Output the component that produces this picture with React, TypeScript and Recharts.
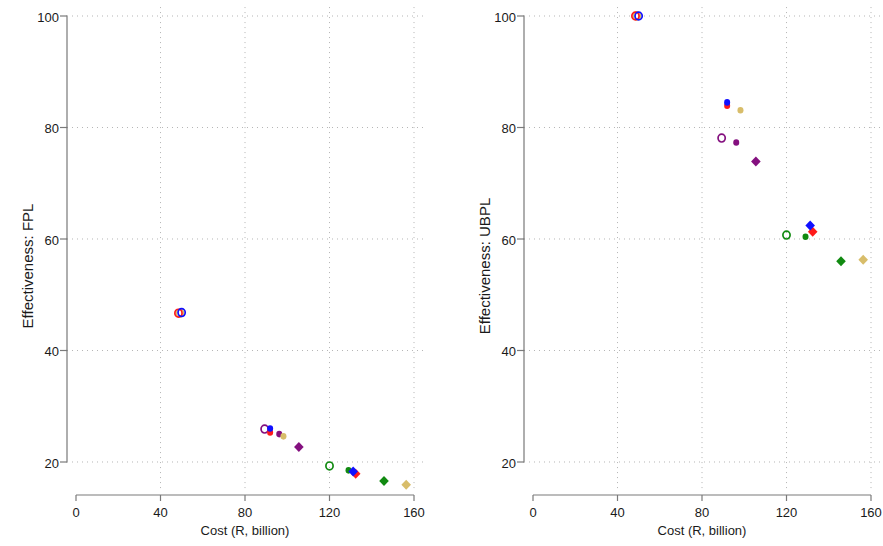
import React from 'react';
import { ScatterChart, Scatter, XAxis, YAxis, ReferenceLine } from 'recharts';

const costTicks = [0, 40, 80, 120, 160];
const effTicks = [20, 40, 60, 80, 100];

// marker kind of the 1st, 2nd and 3rd point in every group
const kinds = ['hollow', 'dot', 'diamond'];

const redCost = [48.5, 91.9, 132.4];
const blueCost = [50.0, 91.9, 131.2];
const sandCost = [49.2, 98.2, 156.3];
const purpleCost = [89.3, 96.2, 105.5];
const greenCost = [120.0, 129.0, 145.8];

const redFPL = [46.7, 25.3, 17.9];
const blueFPL = [46.8, 26.0, 18.3];
const sandFPL = [46.7, 24.6, 15.9];
const purpleFPL = [25.9, 25.0, 22.7];
const greenFPL = [19.3, 18.5, 16.6];

const redUBPL = [100, 83.9, 61.3];
const blueUBPL = [100, 84.5, 62.4];
const sandUBPL = [100, 83.1, 56.3];
const purpleUBPL = [78.1, 77.3, 73.9];
const greenUBPL = [60.7, 60.4, 56.0];

const COLORS = {
  red: '#ff1a1a',
  blue: '#1010ff',
  sand: '#d8bd6a',
  purple: '#84107f',
  green: '#118a11',
};

const AXIS = '#7a7a7a';
const GRID = '#b4b4b4';
const TEXT = '#1a1a1a';
const FONT = '"Liberation Sans", Arial, sans-serif';

const Y_MIN = 14.08;
const Y_MAX = 100;
const TOP = 16;
const PLOT_H = 479;

const build = (costs: number[], effs: number[]) =>
  costs.map((c, i) => ({ cost: c, eff: effs[i], kind: kinds[i] }));

const fplGroups = [
  { color: COLORS.green, data: build(greenCost, greenFPL) },
  { color: COLORS.purple, data: build(purpleCost, purpleFPL) },
  { color: COLORS.sand, data: build(sandCost, sandFPL) },
  { color: COLORS.red, data: build(redCost, redFPL) },
  { color: COLORS.blue, data: build(blueCost, blueFPL) },
];

const ubplGroups = [
  { color: COLORS.green, data: build(greenCost, greenUBPL) },
  { color: COLORS.purple, data: build(purpleCost, purpleUBPL) },
  { color: COLORS.sand, data: build(sandCost, sandUBPL) },
  { color: COLORS.red, data: build(redCost, redUBPL) },
  { color: COLORS.blue, data: build(blueCost, blueUBPL) },
];

function makeMarker(color: string) {
  return (props: any) => {
    const { cx, cy, payload } = props;
    if (cx == null || cy == null) return <g />;
    if (payload.kind === 'hollow') {
      return <ellipse cx={cx} cy={cy} rx={3.6} ry={3.9} fill="none" stroke={color} strokeWidth={1.7} />;
    }
    if (payload.kind === 'dot') {
      return <ellipse cx={cx} cy={cy} rx={3} ry={3.3} fill={color} />;
    }
    return (
      <path
        d={`M${cx},${cy - 5}L${cx + 4.8},${cy}L${cx},${cy + 5}L${cx - 4.8},${cy}Z`}
        fill={color}
      />
    );
  };
}

function XTick(props: any) {
  const { x, y, payload } = props;
  return (
    <g>
      <line x1={x} x2={x} y1={y} y2={y + 6} stroke={AXIS} strokeWidth={1.2} />
      <text x={x} y={y + 17} textAnchor="middle" dominantBaseline="central" fontSize={13} fill={TEXT} fontFamily={FONT}>
        {payload.value}
      </text>
    </g>
  );
}

// the y axis sits 9px left of the plot and runs only from the first to the last tick,
// so each tick also draws the piece of axis down to the next tick
const tickGap = ((effTicks[1] - effTicks[0]) / (Y_MAX - Y_MIN)) * PLOT_H;

function YTick(props: any) {
  const { x, y, payload } = props;
  const ax = x - 9;
  return (
    <g>
      {payload.value > effTicks[0] && (
        <rect x={ax - 0.6} y={y - 0.6} width={1.2} height={tickGap + 1.2} fill={AXIS} />
      )}
      <line x1={x - 16} x2={ax} y1={y} y2={y} stroke={AXIS} strokeWidth={1.2} />
      <text x={x - 17} y={y + 1.5} textAnchor="end" dominantBaseline="central" fontSize={13} fill={TEXT} fontFamily={FONT}>
        {payload.value}
      </text>
    </g>
  );
}

interface PanelProps {
  width: number;
  right: number;
  yLabel: string;
  groups: { color: string; data: { cost: number; eff: number; kind: string }[] }[];
}

function Panel({ width, right, yLabel, groups }: PanelProps) {
  return (
    <ScatterChart width={width} height={546} margin={{ top: TOP, right, bottom: 0, left: 0 }}>
      <XAxis
        type="number"
        dataKey="cost"
        domain={[0, 160]}
        ticks={costTicks}
        height={51}
        tickLine={false}
        tickSize={0}
        tickMargin={0}
        axisLine={{ stroke: AXIS, strokeWidth: 1.2 }}
        tick={<XTick />}
        label={{
          content: () => (
            <text x={76 + 169} y={530} textAnchor="middle" dominantBaseline="central" fontSize={13} fill={TEXT} fontFamily={FONT}>
              Cost (R, billion)
            </text>
          ),
        }}
      />
      <YAxis
        type="number"
        dataKey="eff"
        domain={[Y_MIN, Y_MAX]}
        ticks={effTicks}
        width={76}
        axisLine={false}
        tickLine={false}
        tickSize={0}
        tickMargin={0}
        tick={<YTick />}
        label={{
          content: () => (
            <text
              transform={`translate(27,266) rotate(-90)`}
              textAnchor="middle"
              dominantBaseline="central"
              fontSize={15}
              fill={TEXT}
              fontFamily={FONT}
            >
              {yLabel}
            </text>
          ),
        }}
      />
      {effTicks.map((v) => (
        <ReferenceLine
          key={`h${v}`}
          segment={[{ x: -1.9, y: v }, { x: 165.2, y: v }]}
          stroke={GRID}
          strokeDasharray="1 4"
          ifOverflow="visible"
        />
      ))}
      {costTicks.filter((v) => v > 0).map((v) => (
        <ReferenceLine
          key={`v${v}`}
          segment={[{ x: v, y: 101.6 }, { x: v, y: 14.6 }]}
          stroke={GRID}
          strokeDasharray="1 4"
          ifOverflow="visible"
        />
      ))}
      {groups.map((g, i) => (
        <Scatter key={i} data={g.data} fill={g.color} shape={makeMarker(g.color)} isAnimationActive={false} />
      ))}
    </ScatterChart>
  );
}

export default function App() {
  return (
    <div style={{ position: 'absolute', left: 0, top: 0, width: 883, height: 546, display: 'flex', background: '#fff' }}>
      <Panel width={457} right={43} yLabel="Effectiveness: FPL" groups={fplGroups} />
      <Panel width={426} right={12} yLabel="Effectiveness: UBPL" groups={ubplGroups} />
    </div>
  );
}
